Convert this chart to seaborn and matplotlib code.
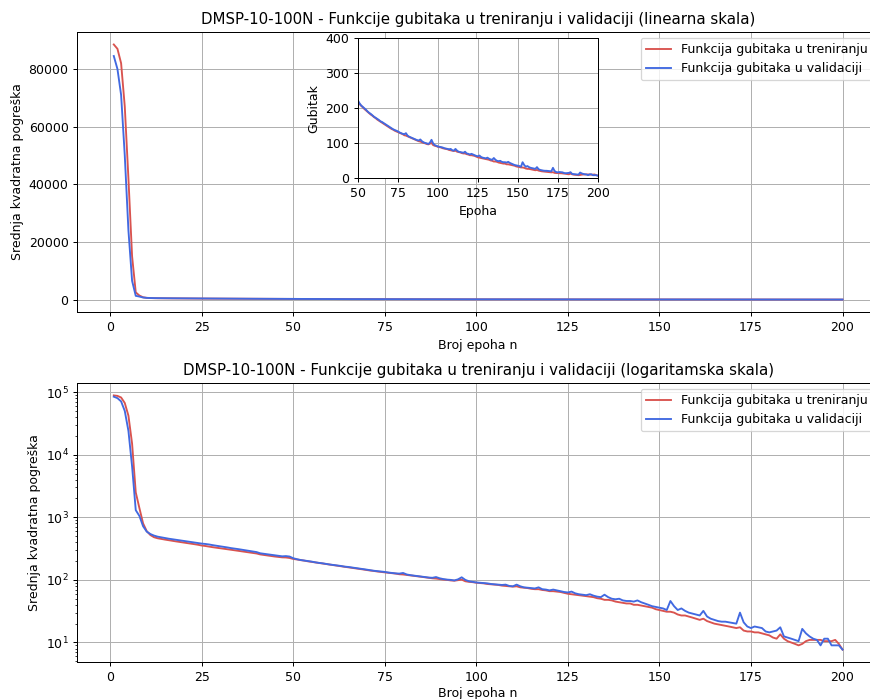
import seaborn as sns
import pandas as pd
import numpy as np
import matplotlib.pyplot as plt

epochs = list(range(1, 201))

train_loss = [
    88500, 87000, 82000, 67000, 42000, 15000, 2500, 1400, 800, 600,
    520, 480, 462, 450, 440, 430, 421, 412, 404, 396,
    388, 380, 372, 364, 354, 348, 340, 333, 327, 321,
    315, 309, 303, 297, 291, 286, 280, 274, 269, 264,
    255, 250, 245, 240, 236, 232, 229, 228, 224, 216,
    212, 207, 203, 198, 194, 190, 186, 182, 179, 175,
    172, 168, 165, 162, 159, 156, 153, 150, 147, 144,
    141, 139, 136, 134, 132, 130, 128, 126, 123, 122,
    120, 118, 116, 114, 112, 110, 108, 106, 105, 103,
    101, 100, 98, 97, 99, 101, 95, 93, 92, 90,
    89, 88, 86, 85, 84, 83, 81, 80, 79, 78,
    79, 76, 75, 74, 72, 71, 71, 69, 68, 66,
    66, 65, 64, 62, 60, 59, 58, 57, 56, 55,
    54, 53, 51, 50, 48, 48, 47, 45, 44, 43,
    42, 42, 40, 40, 39, 38, 37, 36, 34, 33,
    32, 31, 31, 30, 28, 27, 27, 26, 25, 24,
    23, 24, 22, 21, 20, 19.5, 19, 18.5, 18, 17.5,
    17, 17.5, 15.5, 15, 15, 14.5, 14.5, 14, 13.5, 13,
    12, 11.5, 13.5, 11.5, 10.5, 10, 9.5, 9, 9.5, 10.5,
    11, 11, 11, 11, 10.5, 10.5, 10.5, 11, 9.5, 7.7,
]

val_loss = [
    84500, 80000, 71000, 50000, 24000, 6500, 1300, 1050, 720, 590,
    540, 510, 490, 478, 466, 455, 446, 437, 428, 420,
    411, 403, 395, 387, 380, 375, 368, 359, 352, 344,
    337, 330, 322, 316, 310, 303, 296, 290, 284, 278,
    266, 261, 256, 251, 246, 242, 238, 240, 236, 222,
    214, 208, 204, 200, 196, 191, 187, 184, 180, 176,
    173, 170, 167, 163, 161, 158, 155, 152, 149, 146,
    143, 140, 138, 136, 134, 131, 129, 127, 126, 129,
    122, 119, 117, 115, 113, 111, 109, 108, 111, 106,
    103, 101, 100, 98, 102, 110, 100, 95, 93, 91,
    90, 89, 88, 86, 85, 84, 83, 84, 80, 79,
    84, 79, 76, 75, 74, 73, 76, 71, 70, 68,
    70, 68, 66, 64, 63, 65, 61, 59, 58, 57,
    59, 56, 54, 53, 58, 53, 50, 49, 50, 47,
    46, 46, 45, 47, 44, 42, 40, 38, 37, 36,
    35, 33, 46, 38, 33, 35, 32, 30, 29, 28,
    27, 32, 26, 24, 23, 22, 21.5, 21.5, 21, 20.5,
    20, 30, 21, 18, 17, 18, 17.5, 17, 15, 14.5,
    15, 15.5, 17.5, 12.5, 12, 11.5, 11, 10.5, 16.5, 14,
    12.5, 11.5, 11, 9, 11.5, 11.5, 9, 9, 9, 7.7,
]

lbl_train = "Funkcija gubitaka u treniranju"
lbl_val = "Funkcija gubitaka u validaciji"
red = "#d9534f"
blue = "royalblue"

df = pd.DataFrame({"epoha": epochs, "train": train_loss, "val": val_loss})

fig = plt.figure(figsize=(870 / 90, 699 / 90), dpi=90)
ax1 = fig.add_axes([0.0889, 0.5532, 0.9214, 0.4014])
ax2 = fig.add_axes([0.0889, 0.0525, 0.9214, 0.4000])

for ax in (ax1, ax2):
    sns.lineplot(data=df, x="epoha", y="train", color=red, label=lbl_train, ax=ax)
    sns.lineplot(data=df, x="epoha", y="val", color=blue, label=lbl_val, ax=ax)
    ax.set_ylabel("Srednja kvadratna pogreška")
    ax.grid(True)
    ax.legend(loc="upper right")

ax1.set_xlabel("Broj epoha n")
ax2.set_xlabel("Broj epoha n", labelpad=2)
ax1.set_title("DMSP-10-100N - Funkcije gubitaka u treniranju i validaciji (linearna skala)")
ax2.set_yscale("log")
ax2.set_title("DMSP-10-100N - Funkcije gubitaka u treniranju i validaciji (logaritamska skala)")

# inset: zoom na epohe 50-200
axin = fig.add_axes([0.4115, 0.7449, 0.2755, 0.2003])
sns.lineplot(data=df, x="epoha", y="train", color=red, ax=axin)
sns.lineplot(data=df, x="epoha", y="val", color=blue, ax=axin)
axin.set_xlim(50, 200)
axin.set_ylim(0, 400)
axin.set_xlabel("Epoha")
axin.set_ylabel("Gubitak")
axin.grid(True)

fig.savefig("out.png", dpi=90)
